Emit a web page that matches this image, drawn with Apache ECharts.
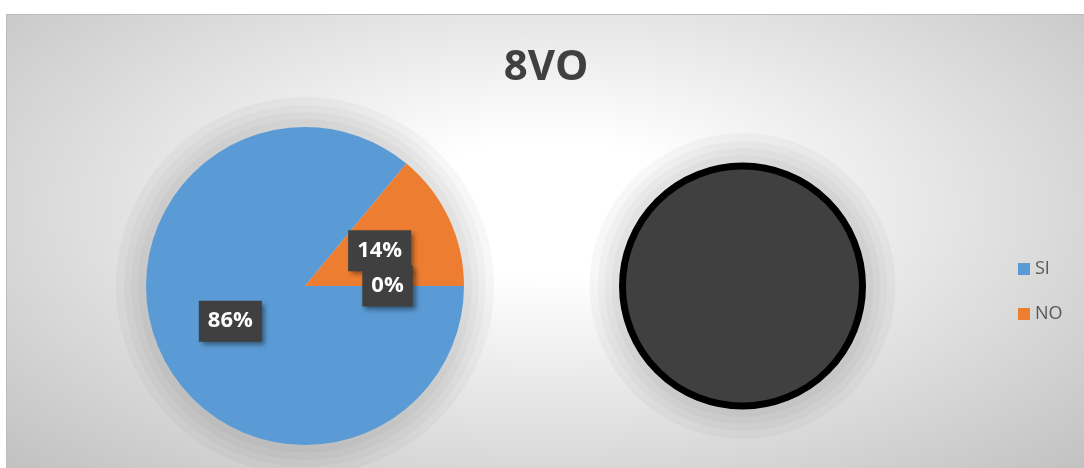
<!DOCTYPE html>
<html>
<head>
<meta charset="utf-8">
<script src="https://cdn.jsdelivr.net/npm/echarts@6/dist/echarts.min.js"></script>
<style>
  html, body { margin: 0; padding: 0; background: #ffffff; width: 1084px; height: 468px; overflow: hidden; }
  #wrap {
    position: absolute; left: 6px; top: 14px; width: 1084px; height: 460px;
    border-top: 1px solid #bdbdbd; border-left: 1px solid #bdbdbd;
    background: radial-gradient(ellipse farthest-corner at 50% 42%, #ffffff 0%, #ffffff 18%, #c0c0c0 100%);
  }
  #chart { width: 1078px; height: 454px; }
</style>
</head>
<body>
<div id="wrap"><div id="chart"></div></div>
<script>
// ---- data ----
const titleText = '8VO';
const categories = ['SI', 'NO'];
const values = [86, 14];
const otherName = 'Otros';
const otherValue = 0;           // slice sent to the secondary pie
const secondaryNames = ['Otros'];
const secondaryValues = [0];

const colors = ['#5B9BD5', '#ED7D31'];

const chart = echarts.init(document.getElementById('chart'));

const rawByName = {};
categories.forEach((c, i) => { rawByName[c] = values[i]; });
rawByName[otherName] = otherValue;
const total = values.reduce((a, b) => a + b, 0) + otherValue;

// zero-valued slice gets a vanishing angle so its label is still laid out
const primaryData = categories.map((c, i) => ({ name: c, value: values[i], itemStyle: { color: colors[i] } }));
primaryData.push({ name: otherName, value: Math.max(otherValue, 1e-7), itemStyle: { color: '#A5A5A5' } });

const labelStyle = {
  show: true,
  position: 'inside',
  formatter: p => Math.round(rawByName[p.name] / total * 100) + '%',
  color: '#ffffff',
  fontFamily: 'Open Sans',
  fontWeight: 'bold',
  fontSize: 22,
  lineHeight: 22,
  backgroundColor: '#404040',
  padding: [10, 9, 9, 9],
  shadowColor: 'rgba(0,0,0,0.45)',
  shadowBlur: 5,
  shadowOffsetX: 3,
  shadowOffsetY: 3
};

const leftCenter = [298, 271];
const leftR = 159;
const rightCenter = [735.5, 271];
const rightR = 120;

// decorative soft halo: stacked translucent discs behind each pie
const haloSteps = [30, 22, 15, 8];
function haloSeries(center, r, tag) {
  return haloSteps.map((d, k) => ({
    type: 'pie', silent: true, center: center, radius: r + d, z: 1,
    label: { show: false }, labelLine: { show: false },
    itemStyle: { color: 'rgba(0,0,0,0.032)' },
    data: [{ name: '_halo' + tag + k, value: 1 }]
  }));
}

chart.setOption({
  animation: false,
  title: {
    text: titleText,
    left: 'center',
    top: 27,
    textStyle: { fontFamily: 'Open Sans', fontWeight: 'bold', fontSize: 42, color: '#404040' }
  },
  legend: {
    data: categories,
    orient: 'vertical',
    left: 1006,
    top: 240,
    icon: 'rect',
    itemWidth: 12,
    itemHeight: 12,
    itemGap: 27,
    textStyle: { fontFamily: 'Open Sans', fontSize: 18, color: '#595959' }
  },
  series: [
    ...haloSeries(leftCenter, leftR, 'L'),
    ...haloSeries(rightCenter, rightR + 3, 'R'),
    {
      type: 'pie',
      z: 2,
      center: leftCenter,
      radius: leftR,
      startAngle: 0,
      clockwise: true,
      label: labelStyle,
      labelLine: { show: false },
      labelLayout: { hideOverlap: false },
      data: primaryData
    },
    {
      type: 'pie',
      z: 2,
      center: rightCenter,
      radius: rightR,
      startAngle: 0,
      stillShowZeroSum: true,
      label: { show: false },
      labelLine: { show: false },
      itemStyle: { color: '#404040', borderColor: '#000000', borderWidth: 7 },
      data: secondaryNames.map((n, i) => ({ name: n, value: secondaryValues[i] }))
    }
  ]
});
</script>
</body>
</html>
